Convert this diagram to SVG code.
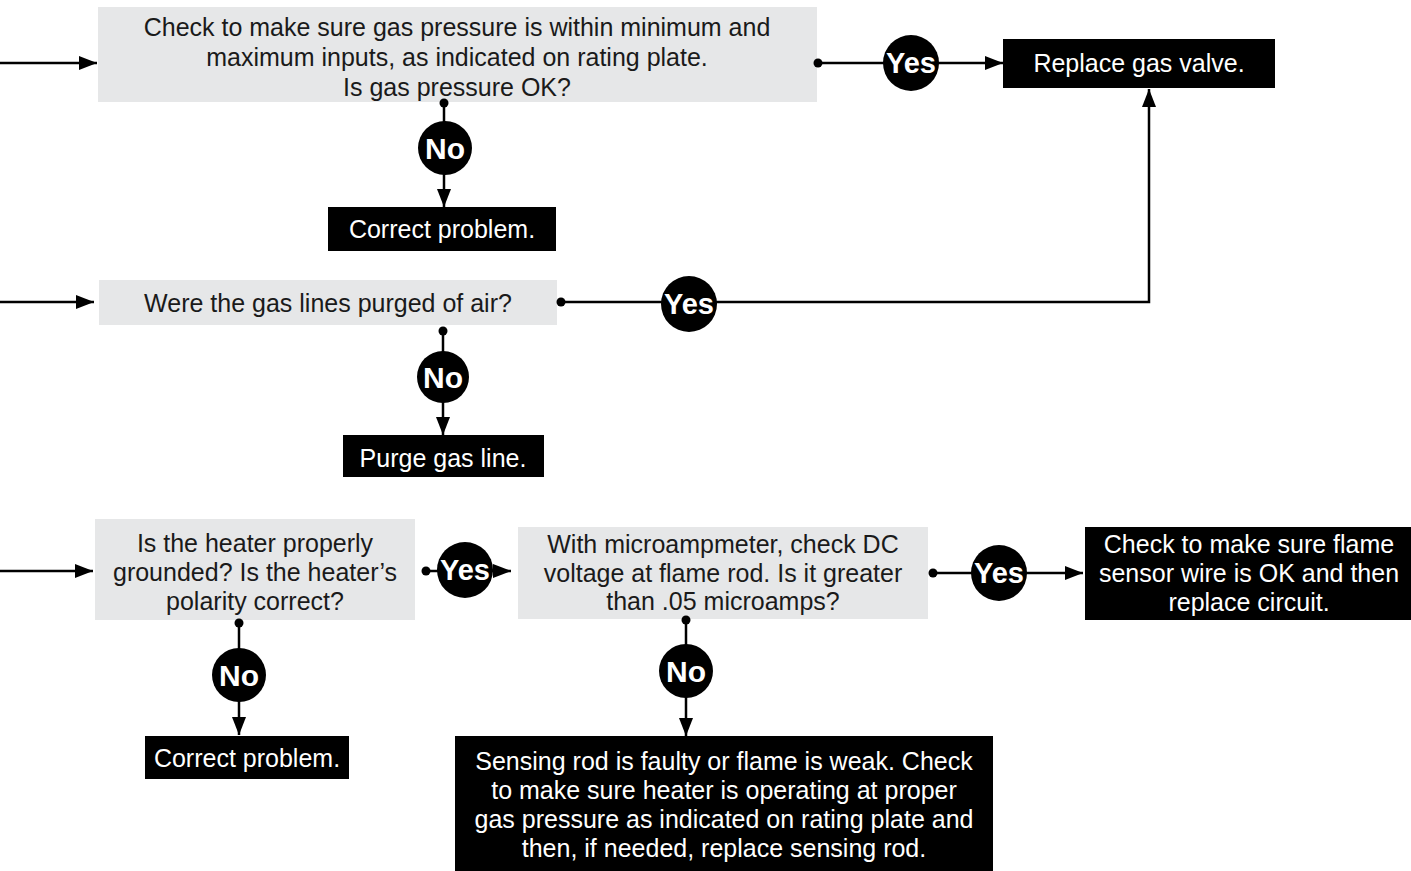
<svg xmlns="http://www.w3.org/2000/svg" width="1411" height="871" viewBox="0 0 1411 871">
<defs>
<marker id="arr" markerUnits="userSpaceOnUse" markerWidth="18" markerHeight="14" refX="18" refY="7" orient="auto">
<path d="M0,0 L18,7 L0,14 z" fill="#000"/>
</marker>
<style>
.q{fill:#e6e7e8}
.a{fill:#000}
.t{font-family:"Liberation Sans",Arial,Helvetica,sans-serif;font-size:25px;text-anchor:middle;fill:#1a1a1a}
.w{font-family:"Liberation Sans",Arial,Helvetica,sans-serif;font-size:25px;text-anchor:middle;fill:#fff}
.ln{stroke:#000;stroke-width:2.5;fill:none}
.ar{stroke:#000;stroke-width:2.5;fill:none;marker-end:url(#arr)}
.dot{fill:#000}
.lab{fill:#000}
.lt{font-family:"Liberation Sans",Arial,Helvetica,sans-serif;font-weight:bold;text-anchor:middle;fill:#fff}
</style>
</defs>
<rect width="1411" height="871" fill="#fff"/>

<g id="q1">
<rect class="q" x="98" y="7" width="719" height="95"/>
<text class="t" x="457" y="36">Check to make sure gas pressure is within minimum and</text>
<text class="t" x="457" y="66">maximum inputs, as indicated on rating plate.</text>
<text class="t" x="457" y="96">Is gas pressure OK?</text>
</g>
<g id="a1">
<rect class="a" x="1003" y="39" width="272" height="49"/>
<text class="w" x="1139" y="72">Replace gas valve.</text>
</g>
<g id="a2">
<rect class="a" x="328" y="207" width="228" height="44"/>
<text class="w" x="442" y="238">Correct problem.</text>
</g>
<g id="q2">
<rect class="q" x="99" y="280" width="458" height="45"/>
<text class="t" x="328" y="312">Were the gas lines purged of air?</text>
</g>
<g id="a3">
<rect class="a" x="343" y="435" width="201" height="42"/>
<text class="w" x="443" y="467">Purge gas line.</text>
</g>
<g id="q3">
<rect class="q" x="95" y="519" width="320" height="101"/>
<text class="t" x="255" y="552">Is the heater properly</text>
<text class="t" x="255" y="581">grounded? Is the heater’s</text>
<text class="t" x="255" y="610">polarity correct?</text>
</g>
<g id="q4">
<rect class="q" x="518" y="527" width="410" height="92"/>
<text class="t" x="723" y="553">With microampmeter, check DC</text>
<text class="t" x="723" y="582">voltage at flame rod. Is it greater</text>
<text class="t" x="723" y="610">than .05 microamps?</text>
</g>
<g id="a4">
<rect class="a" x="1085" y="527" width="326" height="93"/>
<text class="w" x="1249" y="553">Check to make sure flame</text>
<text class="w" x="1249" y="582">sensor wire is OK and then</text>
<text class="w" x="1249" y="611">replace circuit.</text>
</g>
<g id="a5">
<rect class="a" x="145" y="736" width="204" height="43"/>
<text class="w" x="247" y="767">Correct problem.</text>
</g>
<g id="a6">
<rect class="a" x="455" y="736" width="538" height="135"/>
<text class="w" x="724" y="770">Sensing rod is faulty or flame is weak. Check</text>
<text class="w" x="724" y="799">to make sure heater is operating at proper</text>
<text class="w" x="724" y="828">gas pressure as indicated on rating plate and</text>
<text class="w" x="724" y="857">then, if needed, replace sensing rod.</text>
</g>

<g id="connectors">
<!-- label circles first so arrowheads stay visible -->
<circle class="lab" cx="911" cy="63" r="28"/>
<circle class="lab" cx="445" cy="148" r="27"/>
<circle class="lab" cx="689" cy="304" r="28"/>
<circle class="lab" cx="443" cy="377" r="26"/>
<circle class="lab" cx="465" cy="570" r="28"/>
<circle class="lab" cx="999" cy="573" r="28"/>
<circle class="lab" cx="239" cy="675" r="27"/>
<circle class="lab" cx="686" cy="671" r="27"/>
<!-- row 1 -->
<line class="ar" x1="0" y1="63" x2="97" y2="63"/>
<line class="ln" x1="818" y1="63" x2="911" y2="63"/>
<line class="ar" x1="911" y1="63" x2="1003" y2="63"/>
<circle class="dot" cx="818" cy="63" r="4.5"/>
<line class="ln" x1="444" y1="103" x2="444" y2="148"/>
<line class="ar" x1="444" y1="148" x2="444" y2="207"/>
<circle class="dot" cx="444" cy="103" r="4.5"/>
<!-- row 2 -->
<line class="ar" x1="0" y1="302" x2="94" y2="302"/>
<path class="ar" d="M561,302 H1149 V89"/>
<circle class="dot" cx="561" cy="302" r="4.5"/>
<line class="ln" x1="443" y1="331" x2="443" y2="378"/>
<line class="ar" x1="443" y1="378" x2="443" y2="435"/>
<circle class="dot" cx="443" cy="331" r="4.5"/>
<!-- row 3 -->
<line class="ar" x1="0" y1="571" x2="93" y2="571"/>
<line class="ln" x1="426" y1="571" x2="465" y2="571"/>
<line class="ar" x1="465" y1="571" x2="511" y2="571"/>
<circle class="dot" cx="426" cy="571" r="4.5"/>
<line class="ln" x1="933" y1="573" x2="999" y2="573"/>
<line class="ar" x1="999" y1="573" x2="1083" y2="573"/>
<circle class="dot" cx="933" cy="573" r="4.5"/>
<line class="ln" x1="239" y1="623" x2="239" y2="675"/>
<line class="ar" x1="239" y1="675" x2="239" y2="735"/>
<circle class="dot" cx="239" cy="623" r="4.5"/>
<line class="ln" x1="686" y1="620" x2="686" y2="671"/>
<line class="ar" x1="686" y1="671" x2="686" y2="736"/>
<circle class="dot" cx="686" cy="620" r="4.5"/>
<!-- labels -->
<text class="lt" x="911" y="73" font-size="29">Yes</text>
<text class="lt" x="445" y="159" font-size="30">No</text>
<text class="lt" x="689" y="314" font-size="29">Yes</text>
<text class="lt" x="443" y="388" font-size="30">No</text>
<text class="lt" x="465" y="580" font-size="29">Yes</text>
<text class="lt" x="999" y="583" font-size="29">Yes</text>
<text class="lt" x="239" y="686" font-size="30">No</text>
<text class="lt" x="686" y="682" font-size="30">No</text>
</g>
</svg>
